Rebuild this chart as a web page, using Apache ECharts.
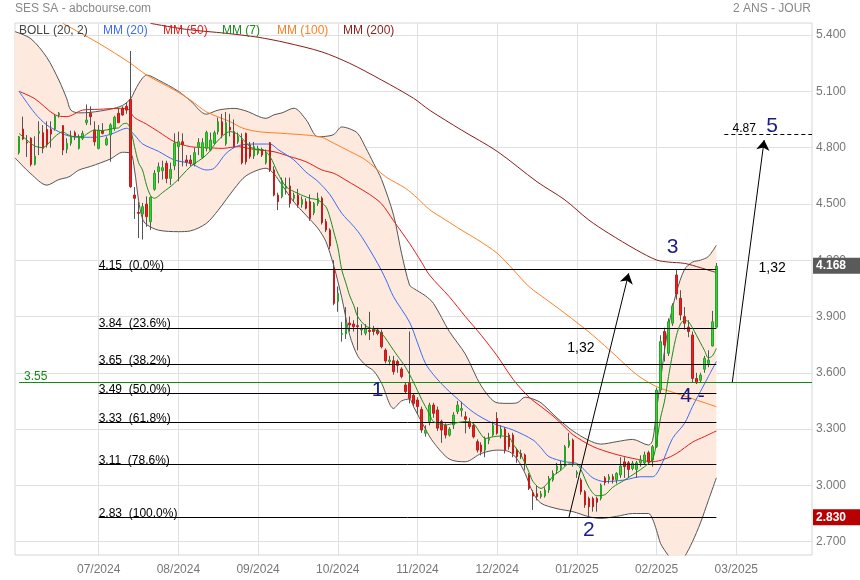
<!DOCTYPE html>
<html>
<head>
<meta charset="utf-8">
<title>SES SA - abcbourse.com</title>
<script src="https://cdn.jsdelivr.net/npm/echarts@6/dist/echarts.min.js"></script>
<style>html,body{margin:0;padding:0;background:#fff}#c{width:860px;height:580px}</style>
</head>
<body>
<div id="c"></div>
<script>
// ---------------- DATA ----------------
const monthLabels = ['07/2024','08/2024','09/2024','10/2024','11/2024','12/2024','01/2025','02/2025','03/2025'];
const monthSlots  = [21, 41, 61, 81, 101, 121, 141, 161, 181];
const yTicks = [2.7, 3.0, 3.3, 3.6, 3.9, 4.2, 4.5, 4.8, 5.1, 5.4];
const slotCount = 201;
const firstSlot = 1;

const openP = [4.773,4.899,4.830,4.850,4.711,4.876,4.879,4.897,4.897,4.899,
4.974,4.917,4.791,4.823,4.879,4.796,4.849,4.933,4.983,4.894,
4.796,4.888,4.815,4.867,4.903,4.983,5.009,5.020,5.057,4.547,
4.455,4.446,4.499,4.405,4.578,4.672,4.677,4.716,4.636,4.703,
4.805,4.831,4.734,4.734,4.713,4.800,4.748,4.796,4.787,4.823,
4.885,4.938,4.820,4.908,4.885,4.830,4.840,4.876,4.814,4.755,
4.770,4.787,4.719,4.826,4.681,4.547,4.538,4.583,4.595,4.530,
4.547,4.497,4.512,4.512,4.453,4.503,4.530,4.405,4.361,4.157,
3.979,3.805,3.807,3.865,3.860,3.851,3.828,3.811,3.826,3.832,
3.828,3.815,3.721,3.660,3.664,3.660,3.620,3.535,3.544,3.480,
3.455,3.405,3.278,3.340,3.428,3.402,3.340,3.320,3.268,3.322,
3.393,3.400,3.366,3.340,3.320,3.233,3.215,3.188,3.240,3.268,
3.357,3.268,3.300,3.268,3.268,3.188,3.170,3.162,3.055,2.960,
2.955,2.940,2.943,2.975,3.029,3.080,3.090,3.109,3.210,3.242,
3.060,3.029,2.966,2.930,2.930,2.930,2.931,3.040,3.030,3.046,
3.030,3.055,3.125,3.120,3.090,3.085,3.120,3.120,3.174,3.135,
3.206,3.508,3.820,3.704,3.864,4.121,3.997,3.899,3.843,3.801,
3.570,3.560,3.619,3.650,3.743,3.843];

const closeP = [4.858,4.846,4.825,4.711,4.755,4.886,4.796,4.814,4.872,4.968,
4.983,4.787,4.823,4.858,4.862,4.855,4.876,4.947,4.965,4.831,
4.894,4.876,4.847,4.921,4.962,4.933,4.974,5.000,4.592,4.530,
4.450,4.485,4.432,4.535,4.663,4.698,4.693,4.636,4.684,4.823,
4.831,4.816,4.723,4.716,4.773,4.828,4.826,4.881,4.840,4.879,
4.938,4.867,4.933,4.894,4.805,4.860,4.719,4.725,4.752,4.805,
4.796,4.760,4.770,4.681,4.547,4.512,4.624,4.595,4.503,4.547,
4.494,4.524,4.477,4.423,4.503,4.530,4.400,4.361,4.276,3.970,
4.023,3.810,3.864,3.855,3.846,3.846,3.835,3.838,3.820,3.820,
3.810,3.739,3.663,3.668,3.606,3.640,3.580,3.500,3.464,3.437,
3.420,3.295,3.295,3.428,3.384,3.305,3.295,3.268,3.300,3.375,
3.428,3.410,3.352,3.313,3.259,3.188,3.180,3.250,3.250,3.320,
3.278,3.300,3.188,3.206,3.170,3.153,3.153,3.117,2.984,2.943,
2.940,2.955,2.975,3.037,3.064,3.103,3.110,3.206,3.238,3.117,
3.070,2.966,2.896,2.886,2.886,2.910,3.002,3.015,3.046,3.030,
3.064,3.103,3.100,3.085,3.117,3.120,3.135,3.162,3.125,3.206,
3.508,3.766,3.748,3.872,3.956,4.020,3.908,3.864,3.820,3.570,
3.547,3.588,3.677,3.668,3.872,4.168];

const lowP = [4.763,4.840,4.750,4.700,4.705,4.760,4.770,4.800,4.800,4.890,
4.960,4.760,4.770,4.810,4.840,4.790,4.840,4.920,4.920,4.810,
4.790,4.870,4.810,4.725,4.890,4.930,4.970,4.980,4.585,4.420,
4.318,4.310,4.378,4.361,4.570,4.610,4.630,4.610,4.600,4.680,
4.620,4.700,4.700,4.700,4.700,4.760,4.740,4.780,4.780,4.820,
4.870,4.850,4.810,4.860,4.800,4.820,4.710,4.710,4.740,4.740,
4.760,4.750,4.710,4.670,4.540,4.467,4.530,4.550,4.480,4.510,
4.480,4.480,4.470,4.410,4.440,4.490,4.390,4.350,4.260,3.960,
3.925,3.766,3.780,3.820,3.820,3.720,3.800,3.800,3.775,3.800,
3.800,3.730,3.650,3.640,3.590,3.600,3.570,3.490,3.437,3.420,
3.380,3.280,3.260,3.320,3.360,3.290,3.227,3.250,3.260,3.300,
3.380,3.366,3.277,3.300,3.250,3.175,3.160,3.150,3.220,3.260,
3.270,3.250,3.170,3.190,3.150,3.120,3.140,3.080,2.975,2.869,
2.920,2.930,2.935,2.960,3.020,3.060,3.080,3.100,3.200,3.100,
3.040,2.950,2.880,2.830,2.860,2.860,2.920,3.000,3.010,3.010,
3.010,3.040,3.040,3.040,3.080,3.040,3.100,3.110,3.110,3.100,
3.200,3.490,3.660,3.690,3.850,3.990,3.880,3.830,3.790,3.550,
3.540,3.550,3.600,3.630,3.740,3.840];

const highP = [4.862,4.965,4.867,4.855,4.860,4.940,4.920,4.940,4.940,4.980,
4.990,4.920,4.850,4.890,4.890,4.870,4.890,5.030,5.020,4.940,
4.920,4.930,4.860,4.930,4.970,5.010,5.020,5.040,5.315,4.590,
4.510,4.505,4.540,4.540,4.680,4.720,4.730,4.730,4.720,4.876,
4.885,4.876,4.760,4.760,4.800,4.850,4.850,4.890,4.880,4.890,
4.960,4.980,4.990,4.980,4.950,4.880,4.876,4.880,4.830,4.830,
4.810,4.800,4.790,4.830,4.700,4.560,4.640,4.640,4.640,4.560,
4.580,4.540,4.530,4.550,4.510,4.560,4.540,4.420,4.370,4.200,
4.060,3.870,3.950,3.900,3.880,3.950,3.860,3.860,3.925,3.850,
3.840,3.830,3.730,3.690,3.690,3.670,3.630,3.550,3.820,3.490,
3.470,3.420,3.320,3.440,3.440,3.420,3.350,3.330,3.310,3.390,
3.450,3.446,3.393,3.360,3.330,3.245,3.230,3.260,3.280,3.340,
3.390,3.320,3.310,3.280,3.280,3.200,3.190,3.170,3.065,2.975,
3.000,2.970,2.990,3.050,3.080,3.120,3.130,3.215,3.280,3.250,
3.080,3.040,2.975,2.940,2.940,2.940,3.010,3.050,3.060,3.060,
3.070,3.150,3.150,3.130,3.130,3.130,3.160,3.180,3.185,3.215,
3.520,3.800,3.840,3.890,3.970,4.148,4.040,3.950,3.880,3.820,
3.600,3.600,3.690,3.720,3.930,4.185];

// moving averages: [slot, value]
const mm7 = [[1,4.876],[3,4.84],[5,4.808],[7,4.80],[8,4.814],[10,4.858],[12,4.885],[13,4.872],[15,4.858],[17,4.858],[18,4.872],[20,4.894],[21,4.89],[23,4.894],[25,4.903],[26,4.905],[27,4.925],[28,4.93],[29,4.895],[30,4.805],[31,4.72],[32,4.68],[33,4.60],[34,4.545],[35,4.53],[37,4.56],[40,4.61],[44,4.698],[48,4.76],[51,4.84],[54,4.885],[56,4.87],[59,4.805],[61,4.79],[62,4.79],[64,4.752],[66,4.663],[68,4.592],[71,4.556],[74,4.53],[76,4.521],[78,4.485],[79,4.43],[80,4.35],[81,4.27],[82,4.148],[83,4.08],[84,4.01],[85,3.96],[86,3.90],[88,3.85],[90,3.832],[92,3.81],[95,3.72],[96,3.69],[98,3.63],[100,3.55],[102,3.46],[104,3.38],[105,3.34],[108,3.322],[110,3.33],[113,3.34],[115,3.33],[117,3.27],[118,3.25],[120,3.259],[122,3.263],[124,3.256],[125,3.22],[127,3.16],[129,3.07],[130,3.02],[132,2.984],[134,3.02],[135,3.05],[137,3.08],[139,3.114],[141,3.11],[142,3.085],[144,2.99],[146,2.945],[148,2.95],[150,2.99],[153,3.029],[156,3.07],[158,3.10],[160,3.14],[161,3.23],[162,3.36],[163,3.45],[164,3.58],[165,3.70],[166,3.80],[167,3.86],[168,3.88],[169,3.872],[170,3.84],[171,3.80],[172,3.76],[173,3.72],[174,3.68],[175,3.69],[176,3.73]];
const mm20 = [[1,5.10],[5,4.983],[8,4.92],[11,4.885],[13,4.865],[16,4.855],[20,4.855],[23,4.865],[25,4.879],[28,4.903],[30,4.867],[32,4.82],[36,4.78],[40,4.734],[44,4.716],[48,4.681],[50,4.69],[53,4.77],[56,4.81],[60,4.819],[64,4.819],[66,4.79],[70,4.734],[73,4.67],[76,4.62],[79,4.55],[82,4.45],[85,4.38],[87,4.325],[91,4.183],[93,4.10],[95,4.005],[99,3.87],[101,3.76],[103,3.65],[105,3.59],[108,3.52],[110,3.481],[115,3.39],[120,3.33],[125,3.295],[130,3.242],[132,3.20],[134,3.153],[138,3.126],[141,3.117],[143,3.08],[145,3.04],[148,3.02],[153,3.029],[157,3.046],[160,3.046],[162,3.10],[165,3.25],[168,3.33],[170,3.42],[172,3.50],[174,3.58],[176,3.66]];
const mm50 = [[1,5.10],[5,5.06],[10,4.975],[13,4.965],[17,5.0],[21,5.004],[26,5.009],[28,5.009],[30,4.96],[33,4.925],[36,4.885],[40,4.831],[44,4.805],[48,4.80],[52,4.796],[56,4.805],[60,4.79],[65,4.778],[69,4.752],[73,4.725],[77,4.681],[80,4.663],[83,4.627],[89,4.55],[92,4.50],[95,4.41],[99,4.29],[102,4.19],[104,4.121],[109,4.005],[113,3.90],[117,3.80],[121,3.69],[125,3.565],[129,3.47],[132,3.42],[135,3.37],[138,3.31],[140,3.27],[145,3.207],[150,3.17],[155,3.144],[160,3.126],[163,3.14],[166,3.17],[170,3.23],[173,3.26],[176,3.29]];
const mm100 = [[12,5.462],[21,5.356],[29,5.249],[33,5.187],[40,5.107],[44,5.054],[48,4.991],[54,4.938],[57,4.905],[61,4.885],[67,4.876],[73,4.867],[77,4.855],[80,4.823],[84,4.78],[88,4.734],[93,4.645],[98,4.583],[101,4.53],[104,4.47],[108,4.415],[112,4.361],[116,4.31],[121,4.237],[125,4.15],[129,4.059],[134,3.98],[138,3.917],[145,3.80],[151,3.686],[156,3.59],[161,3.526],[166,3.49],[171,3.455],[176,3.419]];
const mm200 = [[34,5.462],[43,5.43],[53,5.409],[61,5.388],[68,5.359],[77,5.31],[84,5.249],[92,5.16],[100,5.063],[104,5.0],[112,4.894],[121,4.78],[131,4.618],[138,4.521],[144,4.414],[149,4.343],[156,4.254],[161,4.201],[164,4.19],[168,4.183],[172,4.16],[176,4.134]];

// Bollinger (20,2) bands
const bollSlots = [0,4,8,11,13,14,16,19,24,27,29,30,31,32,33,36,41,44,48,51,55,58,63,65,67,70,73,76,78,80,82,84,86,88,90,92,95,97,99,100,103,105,109,113,117,121,124,126,128,130,132,136,140,144,147,151,155,159,160,161,162,163,164,166,168,170,172,174,176];
const bollUpper = [5.418,5.38,5.28,5.16,5.06,5.0,4.985,4.988,5.005,5.025,5.06,5.10,5.14,5.17,5.187,5.16,5.10,5.05,4.978,5.0,5.009,4.995,4.956,4.975,4.985,5.01,4.95,4.858,4.86,4.87,4.91,4.90,4.876,4.80,4.716,4.63,4.44,4.237,4.068,4.05,4.01,3.97,3.82,3.70,3.53,3.44,3.437,3.44,3.47,3.46,3.44,3.36,3.29,3.24,3.22,3.233,3.245,3.215,3.24,3.40,3.56,3.72,3.85,4.03,4.15,4.19,4.20,4.22,4.28];
const bollLower = [4.745,4.66,4.60,4.63,4.64,4.65,4.68,4.70,4.74,4.775,4.77,4.68,4.52,4.42,4.39,4.36,4.352,4.356,4.396,4.467,4.58,4.65,4.69,4.66,4.60,4.51,4.44,4.37,4.30,4.17,4.00,3.80,3.69,3.64,3.61,3.544,3.41,3.45,3.46,3.42,3.30,3.23,3.14,3.126,3.17,3.188,3.18,3.14,3.064,2.96,2.905,2.876,2.86,2.833,2.824,2.835,2.85,2.85,2.82,2.76,2.69,2.655,2.625,2.58,2.62,2.70,2.80,2.92,3.04];

// Fibonacci retracement
const fibLevels = [4.15, 3.8385, 3.6458, 3.49, 3.3342, 3.1125, 2.83];
const fibPct = ['0.0%','23.6%','38.2%','50.0%','61.8%','78.6%','100.0%'];
const fibFromSlot = 21, fibToSlot = 176;
const supportLevel = 3.55;
const targetLevel = 4.87;
const lastPrice = 4.168;
const lowPrice = 2.830;
// arrows [fromSlot, fromValue, toSlot, toValue]
const arrows = [[139, 2.83, 154, 4.13], [180, 3.55, 188, 4.84]];
// annotation texts [text, slot, value]
const waveLabels = [['1', 91, 3.508], ['2', 144, 2.762], ['3', 165, 4.27], ['4 -', 170, 3.476], ['5', 190, 4.916]];
const noteLabels = [['1,32', 142, 3.732], ['1,32', 190, 4.158], ['4.87', 183, 4.899]];

// ---------------- CHART ----------------
const FONT = '"Liberation Sans", Arial, Helvetica, sans-serif';
const Y_MIN = 2.629, Y_MAX = 5.464;
const cats = [];
for (let i = 0; i < slotCount; i++) cats.push(String(i));
const monthAt = {};
monthSlots.forEach((s, k) => { monthAt[s] = monthLabels[k]; });

const slots = openP.map((_, k) => k + firstSlot);
const wickData = slots.map((s, k) => [s, openP[k], closeP[k], lowP[k], highP[k]]);
const bodyData = slots.map((s, k) => [s, openP[k], closeP[k], Math.min(openP[k], closeP[k]), Math.max(openP[k], closeP[k])]);
const lowerData = bollSlots.map((s, k) => [s, bollLower[k]]);
const widthData = bollSlots.map((s, k) => [s, +(bollUpper[k] - bollLower[k]).toFixed(4)]);

function maLine(name, data, color, z) {
  return { name, type: 'line', data, showSymbol: false, smooth: 0.3, z,
    lineStyle: { color, width: 1 }, emphasis: { disabled: true }, silent: true };
}

const fibMarks = fibLevels.map((lv, k) => [
  { coord: [fibFromSlot, lv], label: { formatter: lv.toFixed(2) + '  (' + fibPct[k] + ')' } },
  { coord: [fibToSlot, lv] }
]);

const arrowMarks = arrows.map(a => [
  { coord: [a[0], a[1]], symbol: 'none' },
  { coord: [a[2], a[3]], symbol: 'arrow' }
]);

const option = {
  animation: false,
  backgroundColor: '#ffffff',
  textStyle: { fontFamily: FONT },
  grid: { left: 15, right: 48, top: 23, bottom: 25, show: true, borderColor: '#d6d6d6', borderWidth: 1, outerBoundsMode: 'none' },
  xAxis: {
    type: 'category', data: cats, boundaryGap: false,
    axisLine: { show: false }, axisTick: { show: false },
    axisLabel: { interval: (i) => monthAt[i] !== undefined, formatter: (v, i) => monthAt[i] || '', color: '#777', fontSize: 12, margin: 9, fontFamily: FONT },
    splitLine: { show: true, interval: (i) => monthAt[i] !== undefined, lineStyle: { color: '#e0e0e0', width: 1 } }
  },
  yAxis: {
    type: 'value', position: 'right', min: Y_MIN, max: Y_MAX,
    axisLine: { show: false },
    axisTick: { show: false, customValues: yTicks },
    axisLabel: { customValues: yTicks, formatter: (v) => v.toFixed(3), color: '#777', fontSize: 12, margin: 4, fontFamily: FONT },
    splitLine: { show: true, lineStyle: { color: '#e0e0e0', width: 1 } }
  },
  graphic: [
    { type: 'text', x: 15, y: 9, style: { text: 'SES SA - abcbourse.com', fill: '#888', font: '12px ' + FONT, verticalAlign: 'middle', align: 'left' } },
    { type: 'text', x: 811, y: 9, style: { text: '2 ANS - JOUR', fill: '#888', font: '12px ' + FONT, verticalAlign: 'middle', align: 'right' } },
    { type: 'text', x: 19, y: 31, z: 10, style: { text: 'BOLL (20, 2)', fill: '#444', font: '12px ' + FONT, verticalAlign: 'middle' } },
    { type: 'text', x: 103, y: 31, z: 10, style: { text: 'MM (20)', fill: '#3b6cf2', font: '12px ' + FONT, verticalAlign: 'middle' } },
    { type: 'text', x: 163, y: 31, z: 10, style: { text: 'MM (50)', fill: '#e41b1b', font: '12px ' + FONT, verticalAlign: 'middle' } },
    { type: 'text', x: 222, y: 31, z: 10, style: { text: 'MM (7)', fill: '#1a8c1a', font: '12px ' + FONT, verticalAlign: 'middle' } },
    { type: 'text', x: 277, y: 31, z: 10, style: { text: 'MM (100)', fill: '#ff7f24', font: '12px ' + FONT, verticalAlign: 'middle' } },
    { type: 'text', x: 343, y: 31, z: 10, style: { text: 'MM (200)', fill: '#8b1c1c', font: '12px ' + FONT, verticalAlign: 'middle' } }
  ],
  series: [
    { name: 'bollLow', type: 'line', data: lowerData, stack: 'boll', showSymbol: false, smooth: 0.3, z: 1, silent: true,
      lineStyle: { color: '#555', width: 1 } },
    { name: 'bollUp', type: 'line', data: widthData, stack: 'boll', showSymbol: false, smooth: 0.3, z: 1, silent: true,
      lineStyle: { color: '#555', width: 1 }, areaStyle: { color: '#fde9dd', opacity: 1 } },
    maLine('MM (200)', mm200, '#8b1c1c', 2),
    maLine('MM (100)', mm100, '#ff7f24', 2),
    maLine('MM (50)', mm50, '#e41b1b', 2),
    maLine('MM (20)', mm20, '#3b6cf2', 2),
    { name: 'wick', type: 'candlestick', data: wickData, encode: { x: 0, y: [1, 2, 3, 4] }, barWidth: 1, z: 3, silent: true,
      itemStyle: { color: '#555', color0: '#555', borderColor: '#555', borderColor0: '#555', borderColorDoji: '#555', borderWidth: 1 } },
    { name: 'body', type: 'candlestick', data: bodyData, encode: { x: 0, y: [1, 2, 3, 4] }, barWidth: 2, z: 4, silent: true,
      itemStyle: { color: '#3ccc3c', color0: '#e02424', borderColor: '#24a824', borderColor0: '#c41a1a', borderColorDoji: '#555', borderWidth: 1 } },
    maLine('MM (7)', mm7, '#1a8c1a', 5),
    { name: 'overlay', type: 'line', data: [], z: 6, silent: true,
      markLine: {
        silent: true, symbol: 'none', animation: false,
        lineStyle: { color: '#000', width: 1, type: 'solid' },
        label: { show: true, position: 'insideStartTop', distance: [0, -2], color: '#000', fontSize: 12, fontFamily: FONT },
        data: fibMarks.concat([
          [ { coord: [firstSlot, supportLevel], lineStyle: { color: '#138a13' }, label: { formatter: supportLevel.toFixed(2), color: '#138a13', fontSize: 12, distance: [5, -1] } },
            { coord: [slotCount - 1, supportLevel] } ],
          [ { coord: [178, targetLevel], lineStyle: { type: [4, 3] }, label: { show: false } },
            { coord: [slotCount - 1, targetLevel] } ]
        ])
      },
      markPoint: {
        silent: true, symbol: 'circle', symbolSize: 1, itemStyle: { color: 'rgba(0,0,0,0)' },
        label: { show: true, position: 'inside', formatter: '{b}', fontFamily: FONT },
        data: waveLabels.map(w => ({ name: w[0], coord: [w[1], w[2]], label: { color: '#1b1b8c', fontSize: 21 } }))
          .concat(noteLabels.map(n => ({ name: n[0], coord: [n[1], n[2]], label: { color: '#000', fontSize: n[0] === '4.87' ? 12 : 14 } })))
      }
    },
    { name: 'arrows', type: 'line', data: [], z: 6, silent: true,
      markLine: {
        silent: true, animation: false, symbolSize: 10,
        lineStyle: { color: '#000', width: 1, type: 'solid' },
        label: { show: false },
        data: arrowMarks
      }
    },
    { name: 'tags', type: 'line', data: [], z: 7, silent: true,
      markLine: {
        silent: true, symbol: 'none', animation: false,
        lineStyle: { color: 'rgba(0,0,0,0)', width: 0 },
        label: { show: true, position: 'end', distance: 1, color: '#fff', fontWeight: 'bold', fontSize: 12, fontFamily: FONT, padding: [2, 14, 2, 3] },
        data: [
          { yAxis: lastPrice, label: { formatter: lastPrice.toFixed(3), backgroundColor: '#5a5a5a' } },
          { yAxis: lowPrice, label: { formatter: lowPrice.toFixed(3), backgroundColor: '#b80000' } }
        ]
      }
    }
  ]
};

const chart = echarts.init(document.getElementById('c'), null, { renderer: 'canvas' });
chart.setOption(option);
</script>
</body>
</html>
